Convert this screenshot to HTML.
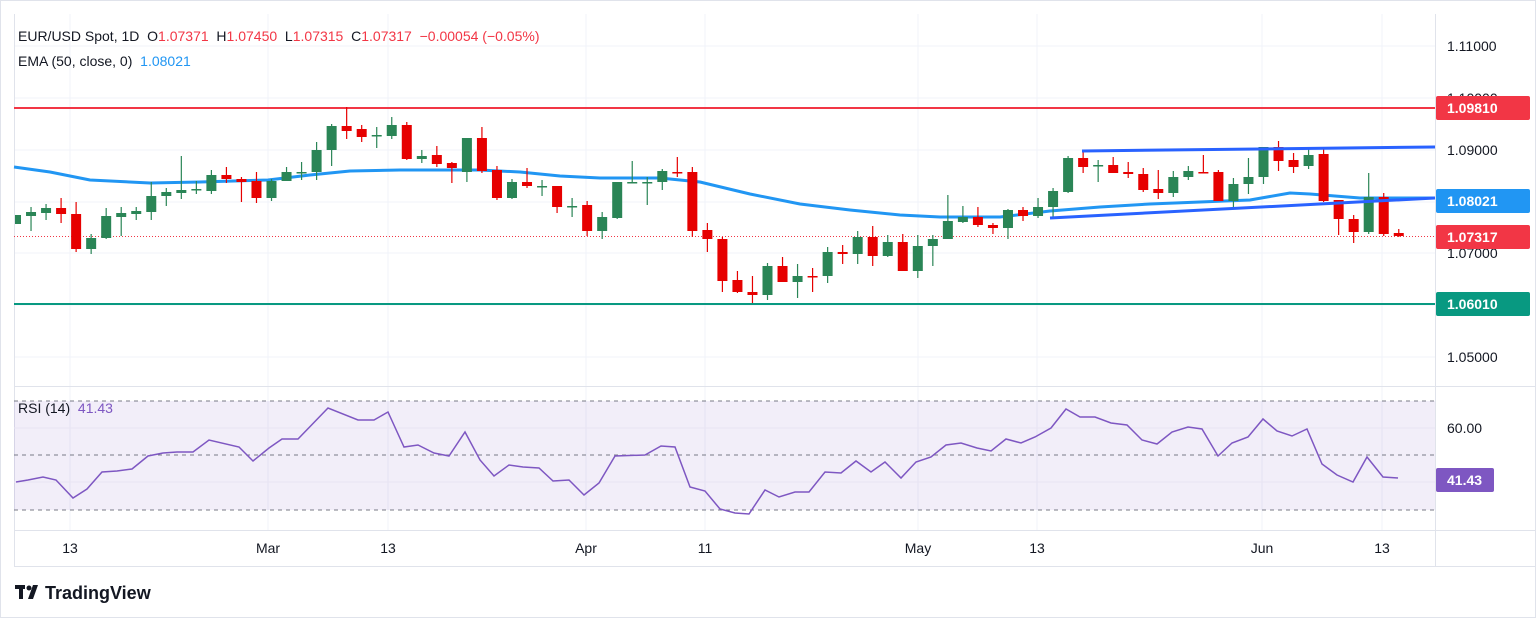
<!DOCTYPE html>
<html><head><meta charset="utf-8"><style>
html,body{margin:0;padding:0;background:#fff;}
body{width:1536px;height:618px;overflow:hidden;position:relative;font-family:"Liberation Sans",sans-serif;}
svg{position:absolute;left:0;top:0;}
.t{font-family:"Liberation Sans",sans-serif;font-size:14px;fill:#131722;}
</style></head><body>
<svg id="s" width="1536" height="618" xmlns="http://www.w3.org/2000/svg">
<defs><clipPath id="cp"><rect x="15" y="14" width="1420" height="372"/></clipPath></defs>
<rect x="0.5" y="0.5" width="1535" height="617" fill="#fff" stroke="#e0e3eb"/>
<g stroke="#f0f3fa" stroke-width="1">
<line x1="14" x2="1435" y1="46" y2="46"/><line x1="14" x2="1435" y1="98" y2="98"/><line x1="14" x2="1435" y1="150" y2="150"/>
<line x1="14" x2="1435" y1="202" y2="202"/><line x1="14" x2="1435" y1="253" y2="253"/><line x1="14" x2="1435" y1="305" y2="305"/><line x1="14" x2="1435" y1="357" y2="357"/>
<line x1="70" x2="70" y1="14" y2="530"/><line x1="268" x2="268" y1="14" y2="530"/><line x1="388" x2="388" y1="14" y2="530"/><line x1="586" x2="586" y1="14" y2="530"/><line x1="705" x2="705" y1="14" y2="530"/><line x1="918" x2="918" y1="14" y2="530"/><line x1="1037" x2="1037" y1="14" y2="530"/><line x1="1262" x2="1262" y1="14" y2="530"/><line x1="1382" x2="1382" y1="14" y2="530"/>
</g>
<line x1="14" x2="1536" y1="386.5" y2="386.5" stroke="#e0e3eb"/>
<line x1="14" x2="1536" y1="530.5" y2="530.5" stroke="#e0e3eb"/>
<line x1="14.5" x2="14.5" y1="14" y2="566" stroke="#e0e3eb"/>
<line x1="1435.5" x2="1435.5" y1="14" y2="566" stroke="#e0e3eb"/>
<line x1="14" x2="1536" y1="566.5" y2="566.5" stroke="#e0e3eb"/>
<rect x="14" y="401" width="1421" height="109" fill="#7e57c2" fill-opacity="0.1"/>
<line x1="14" x2="1435" y1="428" y2="428" stroke="#e8e4f2"/><line x1="14" x2="1435" y1="482" y2="482" stroke="#e8e4f2"/>
<g stroke="#787b86" stroke-dasharray="4,4"><line x1="14" x2="1435" y1="401" y2="401"/><line x1="14" x2="1435" y1="455" y2="455"/><line x1="14" x2="1435" y1="510" y2="510"/></g>
<polyline fill="none" stroke="#7e57c2" stroke-width="1.5" points="16,482 28,480 43,477 56,480 73,498 87,489 102,472 117,471 132,469 148,456 163,453 177,452 193,452 209,440 239,447 253,461 269,448 282,439 298,439 328,408 358,420 374,420 388,412 404,447 418,445 434,453 449,456 465,432 480,460 494,476 509,465 523,467 539,468 553,481 569,480 584,495 599,483 615,456 645,455 661,446 675,447 690,487 705,491 720,509 735,513 749,514 765,490 779,497 795,492 809,492 825,472 841,473 856,461 871,472 885,462 901,478 916,462 931,457 946,445 961,443 977,448 991,451 1006,439 1021,443 1035,437 1051,428 1066,409 1080,417 1095,417 1111,423 1127,425 1142,440 1157,444 1172,432 1188,427 1202,429 1218,456 1232,443 1248,437 1263,419 1277,431 1292,436 1307,429 1322,464 1337,475 1353,482 1367,457 1383,477 1398,478"/>
<line x1="14" x2="1435" y1="108" y2="108" stroke="#f23645" stroke-width="2"/>
<line x1="14" x2="1435" y1="304" y2="304" stroke="#089981" stroke-width="2"/>
<line x1="14" x2="1435" y1="236.5" y2="236.5" stroke="#f23645" stroke-dasharray="1,2"/>
<polyline fill="none" stroke="#2196f3" stroke-width="3" stroke-linejoin="round" points="14,167 50,172 90,180 150,183 200,182 268,180 310,175 350,171 400,170 480,170 520,172 560,176 600,178 660,178 700,182 750,194 800,204 850,210 900,215 940,217 1000,217 1050,211 1100,207 1150,204 1200,202 1250,200 1290,193 1310,194 1360,198 1435,198"/>
<g id="c" clip-path="url(#cp)"></g>
<line x1="1082" y1="151" x2="1435" y2="147" stroke="#2962ff" stroke-width="3"/>
<line x1="1050" y1="218" x2="1435" y2="198" stroke="#2962ff" stroke-width="3"/>
<text class="t" x="18" y="41">EUR/USD Spot, 1D&#160; O<tspan fill="#f23645">1.07371</tspan>&#160; H<tspan fill="#f23645">1.07450</tspan>&#160; L<tspan fill="#f23645">1.07315</tspan>&#160; C<tspan fill="#f23645">1.07317</tspan>&#160; <tspan fill="#f23645">−0.00054 (−0.05%)</tspan></text>
<text class="t" x="18" y="66">EMA (50, close, 0)&#160; <tspan fill="#2196f3">1.08021</tspan></text>
<text class="t" x="18" y="413">RSI (14)&#160; <tspan fill="#7e57c2">41.43</tspan></text>
<text class="t" x="1447" y="51">1.11000</text>
<text class="t" x="1447" y="103">1.10000</text>
<text class="t" x="1447" y="155">1.09000</text>
<text class="t" x="1447" y="258">1.07000</text>
<text class="t" x="1447" y="362">1.05000</text>
<text class="t" x="1447" y="433">60.00</text>
<rect x="1436" y="96" width="94" height="24" rx="2" fill="#f23645"/><text class="t" x="1447" y="113" style="fill:#fff;font-weight:bold">1.09810</text>
<rect x="1436" y="189" width="94" height="24" rx="2" fill="#2196f3"/><text class="t" x="1447" y="206" style="fill:#fff;font-weight:bold">1.08021</text>
<rect x="1436" y="225" width="94" height="24" rx="2" fill="#f23645"/><text class="t" x="1447" y="242" style="fill:#fff;font-weight:bold">1.07317</text>
<rect x="1436" y="292" width="94" height="24" rx="2" fill="#089981"/><text class="t" x="1447" y="309" style="fill:#fff;font-weight:bold">1.06010</text>
<rect x="1436" y="468" width="58" height="24" rx="2" fill="#7e57c2"/><text class="t" x="1447" y="485" style="fill:#fff;font-weight:bold">41.43</text>
<text class="t" x="70" y="553" text-anchor="middle">13</text><text class="t" x="268" y="553" text-anchor="middle">Mar</text><text class="t" x="388" y="553" text-anchor="middle">13</text><text class="t" x="586" y="553" text-anchor="middle">Apr</text><text class="t" x="705" y="553" text-anchor="middle">11</text><text class="t" x="918" y="553" text-anchor="middle">May</text><text class="t" x="1037" y="553" text-anchor="middle">13</text><text class="t" x="1262" y="553" text-anchor="middle">Jun</text><text class="t" x="1382" y="553" text-anchor="middle">13</text>
<g fill="#131722"><rect x="15" y="585" width="10" height="4"/><rect x="19" y="585" width="4" height="14"/><circle cx="29" cy="588" r="2.5"/><polygon points="33,585 38,585 33,599 28,599"/></g>
<text x="45" y="599" style="font-family:'Liberation Sans',sans-serif;font-size:18px;fill:#131722;font-weight:bold">TradingView</text>
</svg>
<script>
var d=[[215,224,215,224,'g'],[212,216,207,231,'g'],[208,213,204,220,'g'],[208,214,198,223,'r'],[214,249,202,252,'r'],[238,249,234,254,'g'],[216,238,208,239,'g'],[213,217,207,236,'g'],[211,214,207,220,'g'],[196,212,182,220,'g'],
[192,196,188,206,'g'],[190,193,156,199,'g'],[189,190,181,194,'g'],[175,191,170,194,'g'],[175,179,167,183,'r'],[179,182,177,202,'r'],[181,198,172,203,'r'],[181,198,179,201,'g'],[172,181,167,181,'g'],[172,173,162,180,'g'],
[150,172,142,180,'g'],[126,150,124,166,'g'],[126,131,107,139,'r'],[129,137,125,142,'r'],[135,136,127,148,'g'],[125,136,117,139,'g'],[125,159,122,160,'r'],[156,159,150,163,'g'],[155,164,146,167,'r'],[163,168,162,183,'r'],
[138,172,138,182,'g'],[138,171,127,173,'r'],[170,198,166,200,'r'],[182,198,179,199,'g'],[182,186,168,188,'r'],[186,187,180,196,'g'],[186,207,186,213,'r'],[206,207,198,217,'g'],[205,231,201,236,'r'],[217,231,212,239,'g'],
[182,218,182,219,'g'],[182,183,161,183,'g'],[182,183,177,205,'g'],[171,182,169,190,'g'],[172,173,157,177,'r'],[172,231,167,237,'r'],[230,239,223,252,'r'],[239,281,237,292,'r'],[280,292,271,293,'r'],[292,295,276,303,'r'],
[266,295,263,300,'g'],[266,282,257,282,'r'],[276,282,264,298,'g'],[276,277,268,292,'r'],[252,276,247,283,'g'],[252,254,245,264,'r'],[237,254,231,264,'g'],[237,256,226,266,'r'],[242,256,235,257,'g'],[242,271,234,271,'r'],
[246,271,235,278,'g'],[239,246,235,266,'g'],[221,239,195,239,'g'],[217,222,206,223,'g'],[217,225,207,227,'r'],[225,228,223,234,'r'],[210,228,209,239,'g'],[210,216,207,221,'r'],[207,216,198,218,'g'],[191,207,188,218,'g'],
[158,192,156,193,'g'],[158,167,152,173,'r'],[165,166,160,182,'g'],[165,173,157,173,'r'],[172,174,162,178,'r'],[174,190,168,192,'r'],[189,193,170,199,'r'],[177,193,171,197,'g'],[171,177,166,180,'g'],[172,173,155,172,'r'],
[172,201,170,201,'r'],[184,201,178,207,'g'],[177,184,158,194,'g'],[147,177,147,184,'g'],[147,161,141,171,'r'],[160,167,153,173,'r'],[155,166,149,169,'g'],[154,201,148,202,'r'],[200,219,200,235,'r'],[219,232,215,243,'r'],
[197,232,173,234,'g'],[197,234,193,236,'r'],[233,236,229,237,'r']];
var h='';d.forEach(function(c,i){var x=16+15.03*i,col=c[4]=='g'?'#2a8556':'#e60000';var bh=Math.max(1.5,c[1]-c[0]);
h+='<line x1="'+x+'" x2="'+x+'" y1="'+c[2]+'" y2="'+c[3]+'" stroke="'+col+'" stroke-width="1.2"/>';
h+='<rect x="'+(x-5)+'" y="'+c[0]+'" width="10" height="'+bh+'" fill="'+col+'"/>';});
document.getElementById('c').innerHTML=h;
</script>
</body></html>
